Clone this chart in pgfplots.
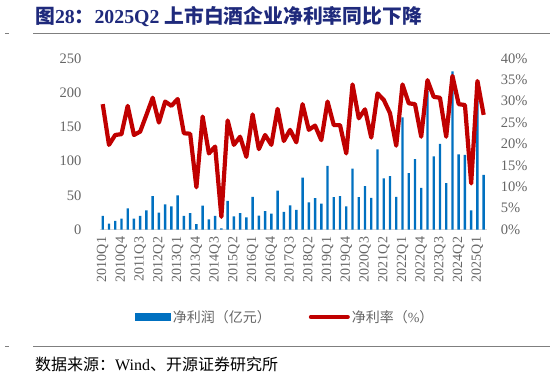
\documentclass[border=0pt]{standalone}
\usepackage{pgfplots}
\usepackage{pgfplotstable}
\pgfplotsset{compat=1.18}
\usepackage{fontspec}
\setmainfont{Liberation Serif}
\newfontfamily\cjk{Noto Sans CJK SC}
\definecolor{barblue}{HTML}{0070C0}
\definecolor{linered}{HTML}{C00000}
\definecolor{titlecol}{HTML}{1F2A7C}
\definecolor{tickgray}{HTML}{666666}
\definecolor{rulegray}{HTML}{7F7F7F}
\definecolor{axisgray}{HTML}{D9D9D9}

\pgfplotstableread{
x net margin
1 20 29.3
2 9 19.8
3 13 22.1
4 16 22.3
5 31 28.9
6 16 22.1
7 20 22.9
8 28 26.8
9 49 30.8
10 25 25.0
11 37 29.9
12 34 28.9
13 50 30.5
14 20 22.5
15 24 22.4
16 8 9.9
17 35 26.4
18 15 17.8
19 20 19.4
20 2 3.0
21 42 25.5
22 19.5 19.8
23 24 21.7
24 18 17.0
25 48 26.9
26 20.5 18.8
27 27 22.1
28 23.5 19.8
29 57 28.2
30 26 20.7
31 35.5 23.3
32 29 20.4
33 76 29.3
34 40 23.3
35 46 24.3
36 38 20.9
37 93 29.9
38 47.5 24.4
39 49 24.4
40 34 17.8
41 89 33.9
42 47.5 26.0
43 63.5 28.1
44 46.5 21.5
45 117 31.8
46 75 30.3
47 78 27.2
48 48 19.6
49 164 33.9
50 82.5 29.5
51 103 29.3
52 61 21.7
53 202 34.9
54 107 31.0
55 125 30.8
56 68 21.7
57 231 35.9
58 110 29.3
59 109 29.1
60 28 10.8
61 188 34.7
62 80 26.8
}\datatable

\begin{document}
\begin{tikzpicture}[x=1pt,y=1pt]
\useasboundingbox (0,0) rectangle (550,377);
% title
\node[anchor=west, text=titlecol, inner sep=0pt, font=\fontsize{19.8}{20}\selectfont\bfseries] at (35,360.5)
  {{\cjk\bfseries 图}28{\cjk\bfseries ：}2025Q2 {\cjk\bfseries 上市白酒企业净利率同比下降}};
\draw[rulegray, line width=1.5pt] (33,343.7) -- (550,343.7);
\draw[rulegray, line width=1.2pt] (5,343.7) -- (9,343.7);
% bottom rule and source
\draw[rulegray, line width=1.5pt] (33,30.3) -- (550,30.3);
\draw[rulegray, line width=1.2pt] (5,30.3) -- (9,30.3);
\node[anchor=west, inner sep=0pt, font=\fontsize{16}{16}\selectfont] at (35,13)
  {{\cjk 数据来源：}Wind{\cjk 、开源证券研究所}};

\begin{axis}[
  at={(99.6pt,147.3pt)}, anchor=south west, scale only axis,
  width=387.2pt, height=171.4pt,
  xmin=0.5, xmax=62.5, ymin=0, ymax=250,
  axis x line*=bottom, axis y line*=left,
  x axis line style={draw=axisgray, line width=1.5pt, -},
  y axis line style={draw=none},
  major tick length=0pt,
  xtick={1,4,...,61},
  xticklabels={2010Q1,2010Q4,2011Q3,2012Q2,2013Q1,2013Q4,2014Q3,2015Q2,2016Q1,2016Q4,2017Q3,2018Q2,2019Q1,2019Q4,2020Q3,2021Q2,2022Q1,2022Q4,2023Q3,2024Q2,2025Q1},
  xticklabel style={rotate=90, anchor=east, inner sep=0pt, font=\fontsize{14}{14}\selectfont, text=tickgray},
  xticklabel shift=7pt,
  ytick={0,50,...,250},
  yticklabels={0,50,100,150,200,250},
  yticklabel style={anchor=east, inner sep=0pt, font=\fontsize{14.5}{14.5}\selectfont, text=tickgray},
  yticklabel shift=18pt,
]
\addplot[ybar, bar width=2.4pt, fill=barblue, draw=none] table[x=x,y=net]{\datatable};
\end{axis}

\begin{axis}[
  at={(99.6pt,147.3pt)}, anchor=south west, scale only axis,
  width=387.2pt, height=171.4pt,
  xmin=0.5, xmax=62.5, ymin=0, ymax=40,
  axis x line=none, axis y line*=right,
  y axis line style={draw=none},
  major tick length=0pt,
  ytick={0,5,...,40},
  yticklabels={0\%,5\%,10\%,15\%,20\%,25\%,30\%,35\%,40\%},
  yticklabel style={anchor=west, inner sep=0pt, font=\fontsize{14.5}{14.5}\selectfont, text=tickgray},
  yticklabel shift=14pt,
  legend columns=2,
  legend style={at={(0.092,-0.509)}, anchor=west, draw=none, fill=none, inner sep=0pt,
    font=\cjk\fontsize{14}{14}\selectfont, text=tickgray,
    /tikz/every even column/.append style={column sep=36pt}},
]
\addlegendimage{legend image code/.code={\fill[barblue] (0pt,-3.5pt) rectangle (35pt,3.5pt);}}
\addlegendentry{净利润（亿元）}
\addplot[linered, line width=4.2pt, line join=round, mark=none,
  legend image code/.code={\draw[linered, line width=4pt, line cap=round] (0pt,0pt) -- (37pt,0pt);}]
  table[x=x,y=margin]{\datatable};
\addlegendentry{净利率（{\rmfamily\%}）}
\end{axis}
\end{tikzpicture}
\end{document}
